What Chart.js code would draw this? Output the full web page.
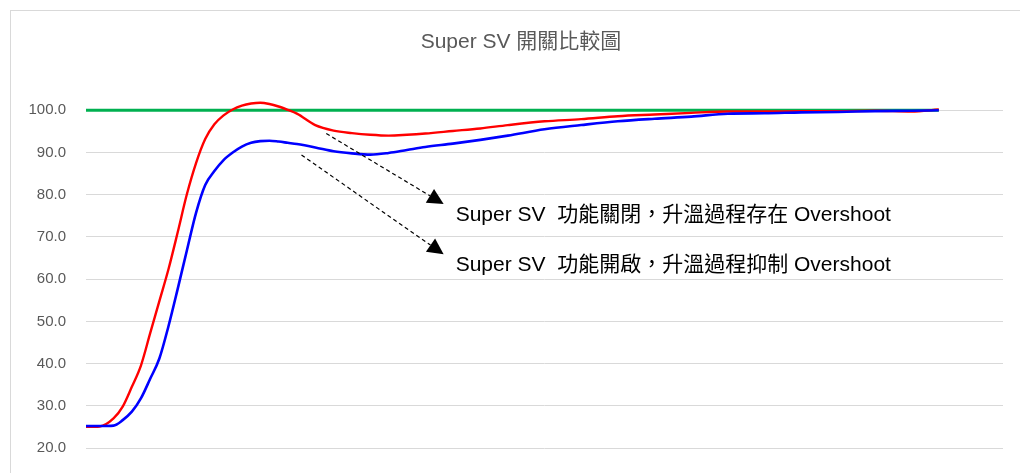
<!DOCTYPE html>
<html>
<head>
<meta charset="utf-8">
<script src="https://cdn.jsdelivr.net/npm/chart.js@4"></script>
<style>
  html, body { margin: 0; padding: 0; background: #fff; overflow: hidden; }
  #frame { position: absolute; left: 10px; top: 10px; width: 1040px; height: 500px; border: 1px solid #d9d9d9; }
  #wrap { position: absolute; left: 0; top: 0; width: 1020px; height: 473px; }
</style>
</head>
<body>
<div id="frame"></div>
<div id="wrap"><canvas id="myChart"></canvas></div>
<script>
// sample time (s)
var timeSec = [0, 15, 30, 40, 50, 60, 70, 80, 90, 100, 110, 120, 130, 140, 150, 160, 170, 180, 190, 200,
    210, 220, 230, 250, 270, 290, 310, 330, 350, 370, 400, 430, 460, 500, 540, 580, 620, 660, 700, 740,
    780, 820, 860, 900, 930];

// Super SV off: temperature overshoots the setpoint
var svOff = [25.0, 25.1, 27.0, 29.8, 34.5, 39.6, 47.2, 54.8, 62.4, 71.1, 80.1, 87.5, 93.2, 96.7, 98.8, 100.2,
    101.1, 101.6, 101.8, 101.5, 100.9, 100.1, 99.2, 96.5, 95.2, 94.6, 94.2, 94.0, 94.2, 94.5, 95.1, 95.7,
    96.5, 97.4, 97.9, 98.6, 99.0, 99.4, 99.7, 99.7, 99.8, 99.8, 99.9, 99.7, 100.2];

// Super SV on: overshoot suppressed
var svOn = [25.2, 25.2, 25.3, 26.6, 28.6, 31.8, 36.4, 41.2, 48.9, 57.7, 66.8, 75.7, 82.3, 85.6, 88.2, 90.0,
    91.4, 92.3, 92.7, 92.8, 92.6, 92.3, 92.0, 91.2, 90.3, 89.8, 89.5, 89.9, 90.6, 91.3, 92.1, 93.0,
    94.0, 95.5, 96.5, 97.4, 98.0, 98.5, 99.2, 99.3, 99.5, 99.6, 99.8, 99.9, 100.0];

var setpoint = timeSec.map(function () { return 100; });

var yTicks = [20, 30, 40, 50, 60, 70, 80, 90, 100];

// callout arrows: [from time, from value, to time, to value, text]
var notes = [
    [262, 94.5, 390, 77.8, 'Super SV  功能關閉，升溫過程存在 Overshoot'],
    [235, 89.4, 390, 65.9, 'Super SV  功能開啟，升溫過程抑制 Overshoot']
];

function toXY(t, v) {
    return t.map(function (x, i) { return { x: x, y: v[i] }; });
}

var FONT = "'Liberation Sans', Arial, 'Noto Sans CJK TC', sans-serif";

var calloutPlugin = {
    id: 'callouts',
    afterLayout: function (chart) {
        // keep the title centred on the whole frame, not the canvas
        chart.titleBlock.left = 39;
        chart.titleBlock.right = chart.chartArea.right;
    },
    afterDatasetsDraw: function (chart) {
        var ctx = chart.ctx;
        var xs = chart.scales.x, ys = chart.scales.y;
        ctx.save();
        notes.forEach(function (n) {
            var x0 = xs.getPixelForValue(n[0]), y0 = ys.getPixelForValue(n[1]);
            var x1 = xs.getPixelForValue(n[2]), y1 = ys.getPixelForValue(n[3]);
            var ang = Math.atan2(y1 - y0, x1 - x0);
            var head = 16, half = 8;
            var bx = x1 - head * Math.cos(ang), by = y1 - head * Math.sin(ang);

            ctx.strokeStyle = '#000';
            ctx.lineWidth = 1.2;
            ctx.setLineDash([4, 3]);
            ctx.beginPath();
            ctx.moveTo(x0, y0);
            ctx.lineTo(bx, by);
            ctx.stroke();
            ctx.setLineDash([]);

            ctx.fillStyle = '#000';
            ctx.beginPath();
            ctx.moveTo(x1, y1);
            ctx.lineTo(bx + half * Math.sin(ang), by - half * Math.cos(ang));
            ctx.lineTo(bx - half * Math.sin(ang), by + half * Math.cos(ang));
            ctx.closePath();
            ctx.fill();

            ctx.font = '21px ' + FONT;
            ctx.textAlign = 'left';
            ctx.textBaseline = 'middle';
            ctx.fillText(n[4], x1 + 12, y1 + 11);
        });
        ctx.restore();
    }
};

var ctx = document.getElementById('myChart').getContext('2d');
var myChart = new Chart(ctx, {
    type: 'line',
    data: {
        datasets: [{
            label: 'Super SV 開啟',
            data: toXY(timeSec, svOn),
            borderColor: '#0000ff',
            borderWidth: 2.6
        }, {
            label: 'Super SV 關閉',
            data: toXY(timeSec, svOff),
            borderColor: '#ff0000',
            borderWidth: 2.4
        }, {
            label: '設定值',
            data: toXY(timeSec, setpoint),
            borderColor: '#00b050',
            borderWidth: 3
        }]
    },
    options: {
        responsive: true,
        maintainAspectRatio: false,
        animation: false,
        elements: {
            point: { radius: 0 },
            line: { cubicInterpolationMode: 'monotone' }
        },
        layout: { padding: { left: 0, right: 17, top: 0, bottom: 25 } },
        plugins: {
            legend: { display: false },
            tooltip: { enabled: false },
            title: {
                display: true,
                text: 'Super SV 開關比較圖',
                color: '#595959',
                font: { family: FONT, size: 21, weight: 'normal' },
                padding: { top: 30, bottom: 34 }
            }
        },
        scales: {
            x: {
                type: 'linear',
                min: 0,
                max: 1000,
                display: false
            },
            y: {
                min: 20,
                max: 105,
                afterFit: function (scale) {
                    scale.width = 86;
                    scale.paddingTop = 0;
                    scale.paddingBottom = 0;
                },
                afterBuildTicks: function (scale) {
                    scale.ticks = yTicks.map(function (v) { return { value: v }; });
                },
                border: { display: false },
                grid: { color: '#d9d9d9', lineWidth: 1, drawTicks: false },
                ticks: {
                    padding: 20,
                    color: '#595959',
                    font: { family: FONT, size: 15 },
                    callback: function (v) { return Number(v).toFixed(1); }
                }
            }
        }
    },
    plugins: [calloutPlugin]
});
</script>
</body>
</html>
